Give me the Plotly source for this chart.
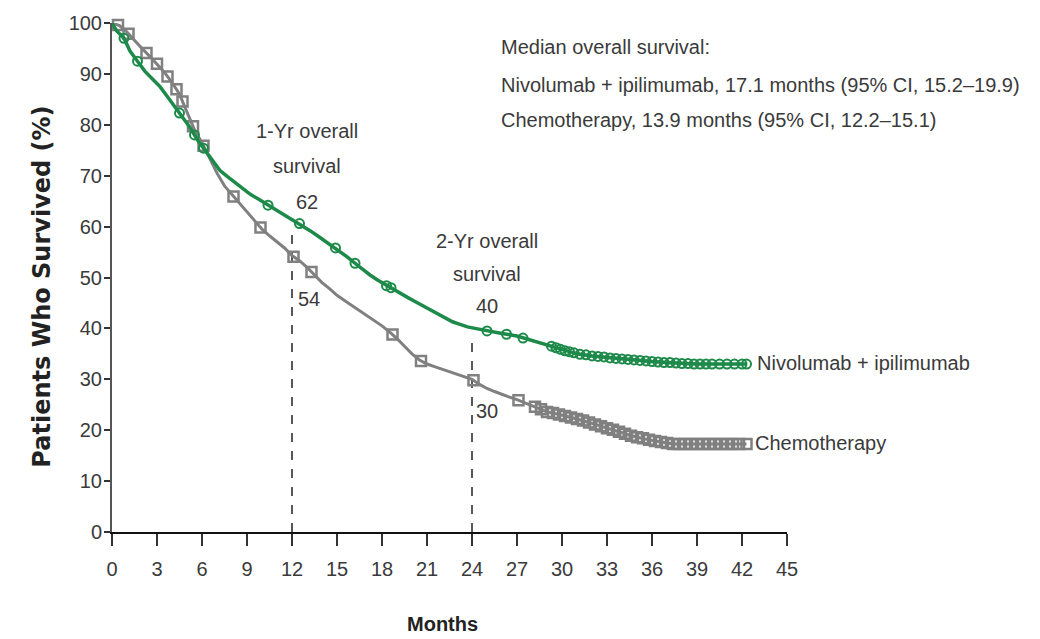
import plotly.graph_objects as go

# ---------------- data ----------------
T_NIVO = [0, 0.3, 0.8, 1.2, 1.7, 2.2, 2.7, 3.2, 3.7, 4.2, 4.7, 5.2, 5.7, 6.2, 6.7, 7.2, 7.7, 8.2, 8.7, 9.2,
          9.7, 10.2, 10.7, 11.2, 11.7, 12.2, 12.7, 13.2, 13.7, 14.2, 14.7, 15.2, 15.7, 16.2, 16.7, 17.2, 17.7,
          18.2, 18.7, 19.2, 19.7, 20.2, 20.7, 21.2, 21.7, 22.2, 22.7, 23.2, 23.7, 24.2, 25, 26, 27, 28, 29,
          30, 31, 32, 33, 34, 35, 36, 37, 38, 39, 42.3]
S_NIVO = [100, 98.5, 97, 94.5, 92.5, 90.5, 89, 87.5, 85.5, 83.5, 81.5, 79.5, 77, 75, 73, 71, 69.8, 68.6, 67.5,
          66.4, 65.5, 64.6, 63.7, 63, 62, 61.2, 60.2, 59.2, 58.2, 57.2, 56.2, 55.2, 54, 52.8, 51.6, 50.5, 49.5,
          48.6, 47.8, 47, 46.1, 45.3, 44.5, 43.7, 42.9, 42, 41.3, 40.8, 40.3, 40, 39.5, 39, 38.5, 37.6, 36.8,
          35.8, 35, 34.6, 34.3, 34, 33.7, 33.5, 33.3, 33.1, 33, 33]

T_CHEMO = [0, 0.5, 1, 1.5, 2, 2.5, 3, 3.5, 4, 4.5, 5, 5.5, 6, 6.5, 7, 7.5, 8, 8.5, 9, 9.5, 10, 10.5, 11, 11.5,
           12, 12.5, 13, 13.5, 14, 14.5, 15, 15.5, 16, 16.5, 17, 17.5, 18, 18.5, 19, 19.5, 20, 20.5, 21, 21.5,
           22, 22.5, 23, 23.5, 24, 24.5, 25, 25.5, 26, 26.5, 27, 27.5, 28, 28.5, 29, 29.5, 30, 30.5, 31, 31.5,
           32, 32.5, 33, 33.5, 34, 34.5, 35, 35.5, 36, 36.5, 37, 37.5, 38, 42.3]
S_CHEMO = [100, 99.5, 98.2, 96.5, 95, 93.5, 92, 90.3, 88.3, 86, 82.5, 79, 76.5, 73.5, 70.5, 68, 66.3, 64.5,
           62.8, 61, 59.5, 58.2, 57, 55.8, 54.3, 53.3, 52, 50.5, 49, 47.8, 46.5, 45.5, 44.5, 43.5, 42.5, 41.5,
           40.5, 39.3, 38, 36.5, 35, 33.8, 33, 32.5, 32, 31.5, 31, 30.5, 30, 29, 28.2, 27.6, 27, 26.5, 26, 25.4,
           24.8, 24.2, 23.6, 23.3, 23, 22.6, 22.2, 21.8, 21.3, 20.9, 20.4, 20, 19.5, 19, 18.6, 18.3, 18, 17.7,
           17.5, 17.3, 17.3, 17.3]

CENS_NIVO_T = [0.8, 1.7, 4.5, 5.5, 6.1, 10.4, 12.5, 14.9, 16.2, 18.3, 18.6, 25, 26.3, 27.4, 29.3, 29.6, 29.9,
               30.2, 30.5, 30.8, 31.2, 31.6, 32.0, 32.4, 32.8, 33.2, 33.6, 34.0, 34.4, 34.8, 35.2, 35.6, 36.0,
               36.4, 36.8, 37.2, 37.6, 38.0, 38.4, 38.8, 39.2, 39.6, 40.0, 40.5, 41.0, 41.5, 42.0, 42.3]
CENS_NIVO_S = [97, 92.5, 82.3, 78, 75.4, 64.2, 60.6, 55.8, 52.8, 48.4, 48.0, 39.5, 38.85, 38.1, 36.5, 36.2, 35.9,
               35.6, 35.4, 35.2, 34.9, 34.8, 34.6, 34.5, 34.4, 34.2, 34.1, 34.0, 33.9, 33.8, 33.7, 33.6, 33.5,
               33.4, 33.3, 33.3, 33.2, 33.1, 33.1, 33.0, 33, 33, 33, 33, 33, 33, 33, 33]

CENS_CHEMO_T = [0.4, 1.1, 2.3, 3, 3.7, 4.3, 4.7, 5.4, 6.1, 8.1, 9.9, 12.1, 13.3, 18.7, 20.6, 24.1, 27.1, 28.2,
                28.6, 29.0, 29.4, 29.8, 30.2, 30.6, 31.0, 31.4, 31.8, 32.2, 32.6, 33.0, 33.4, 33.8, 34.2, 34.6,
                35.0, 35.4, 35.8, 36.2, 36.6, 37.0, 37.4, 37.8, 38.2, 38.6, 39.0, 39.4, 39.8, 40.2, 40.6, 41.0,
                41.4, 41.8, 42.3]
CENS_CHEMO_S = [99.6, 97.9, 94.1, 92, 89.5, 87, 84.6, 79.7, 75.9, 65.9, 59.8, 54.1, 51.1, 38.8, 33.6, 29.8, 25.9,
                24.6, 24.1, 23.6, 23.4, 23.1, 22.8, 22.5, 22.2, 21.9, 21.5, 21.1, 20.8, 20.4, 20.1, 19.7, 19.3,
                18.9, 18.6, 18.4, 18.1, 17.9, 17.7, 17.5, 17.3, 17.3, 17.3, 17.3, 17.3, 17.3, 17.3, 17.3, 17.3,
                17.3, 17.3, 17.3, 17.3]

LANDMARK_MONTHS = [12, 24]
LANDMARK_TOP = [60, 38]

X_TICKS = list(range(0, 46, 3))
Y_TICKS = list(range(0, 101, 10))

GREEN = "#1d8a4a"
GRAY = "#808080"
TXT = "#3a3a3a"
FONT = "Liberation Sans, Arial, sans-serif"

fig = go.Figure()

# landmark dashed lines
for m, top in zip(LANDMARK_MONTHS, LANDMARK_TOP):
    fig.add_trace(go.Scatter(x=[m, m], y=[0, top], mode="lines",
                             line=dict(color="#222222", width=1.5, dash="dash"),
                             hoverinfo="skip", showlegend=False))

# KM curves
fig.add_trace(go.Scatter(x=T_CHEMO, y=S_CHEMO, mode="lines", line=dict(color=GRAY, width=3),
                         showlegend=False, cliponaxis=False))
fig.add_trace(go.Scatter(x=CENS_CHEMO_T, y=CENS_CHEMO_S, mode="markers",
                         marker=dict(symbol="square-open", size=10, color=GRAY, line=dict(width=2.5, color=GRAY)),
                         showlegend=False, cliponaxis=False))
fig.add_trace(go.Scatter(x=T_NIVO, y=S_NIVO, mode="lines", line=dict(color=GREEN, width=3.5),
                         showlegend=False, cliponaxis=False))
fig.add_trace(go.Scatter(x=CENS_NIVO_T, y=CENS_NIVO_S, mode="markers",
                         marker=dict(symbol="circle-open", size=9, color=GREEN, line=dict(width=2, color=GREEN)),
                         showlegend=False, cliponaxis=False))

ann_font = dict(family=FONT, size=20, color=TXT)
annotations = [
    dict(x=13.0, y=78.8, text="1-Yr overall", xanchor="center"),
    dict(x=13.0, y=72.0, text="survival", xanchor="center"),
    dict(x=13.0, y=64.8, text="62", xanchor="center"),
    dict(x=12.25, y=45.7, text="54", xanchor="left"),
    dict(x=25.0, y=57.2, text="2-Yr overall", xanchor="center"),
    dict(x=25.0, y=50.6, text="survival", xanchor="center"),
    dict(x=25.0, y=44.5, text="40", xanchor="center"),
    dict(x=24.15, y=23.8, text="30", xanchor="left"),
    dict(x=25.8, y=95.3, text="Median overall survival:", xanchor="left"),
    dict(x=25.8, y=87.9, text="Nivolumab + ipilimumab, 17.1 months (95% CI, 15.2\u201319.9)", xanchor="left"),
    dict(x=25.8, y=81.0, text="Chemotherapy, 13.9 months (95% CI, 12.2\u201315.1)", xanchor="left"),
    dict(x=42.85, y=33.2, text="Nivolumab + ipilimumab", xanchor="left"),
    dict(x=42.75, y=17.4, text="Chemotherapy", xanchor="left"),
]
for a in annotations:
    fig.add_annotation(xref="x", yref="y", showarrow=False, yanchor="middle", font=ann_font, **a)

fig.add_annotation(xref="paper", yref="y", x=-0.1037, y=48.2, text="<b>Patients Who Survived (%)</b>",
                   textangle=-90, showarrow=False, xanchor="center", yanchor="middle",
                   font=dict(family="DejaVu Sans, sans-serif", size=24, color="#222222"))
fig.add_annotation(xref="x", yref="paper", x=22, y=-0.1816, text="<b>Months</b>", showarrow=False,
                   xanchor="center", yanchor="middle", font=dict(family=FONT, size=20, color="#222222"))

fig.update_layout(
    width=1040, height=639,
    margin=dict(l=112, r=253, t=20, b=107),
    paper_bgcolor="white", plot_bgcolor="white",
    xaxis=dict(range=[0, 45], tickvals=X_TICKS, showgrid=False, zeroline=False,
               showline=True, linecolor="#111111", linewidth=2,
               ticks="outside", ticklen=12, tickwidth=2, tickcolor="#333333",
               ticklabelstandoff=6,
               tickfont=dict(family=FONT, size=20, color=TXT)),
    yaxis=dict(range=[0, 100], tickvals=Y_TICKS, showgrid=False, zeroline=False,
               showline=True, linecolor="#555555", linewidth=2,
               ticks="outside", ticklen=6, tickwidth=2, tickcolor="#333333",
               ticklabelstandoff=-2,
               tickfont=dict(family=FONT, size=20, color=TXT)),
    showlegend=False,
)

fig.write_html("out.html")
